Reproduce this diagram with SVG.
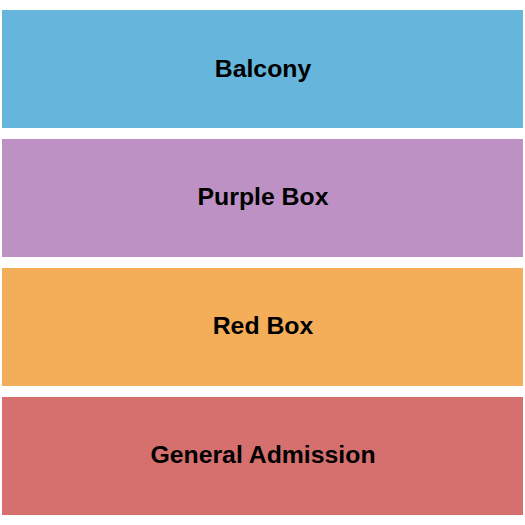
<svg xmlns="http://www.w3.org/2000/svg" width="525" height="525" viewBox="0 0 525 525">
<style>
.lbl{font-family:"Liberation Sans",Arial,sans-serif;font-weight:bold;font-size:24.8px;fill:#000;text-anchor:middle}
</style>
<rect width="525" height="525" fill="#ffffff"/>
<g id="balcony"><rect x="2" y="10" width="521" height="118" fill="#65B5DC"/><text class="lbl" x="263" y="77">Balcony</text></g>
<g id="purple-box"><rect x="2" y="139" width="521" height="118" fill="#BD91C3"/><text class="lbl" x="263" y="205">Purple Box</text></g>
<g id="red-box"><rect x="2" y="268" width="521" height="118" fill="#F4AE5A"/><text class="lbl" x="263" y="334">Red Box</text></g>
<g id="general-admission"><rect x="2" y="397" width="521" height="118" fill="#D6706F"/><text class="lbl" x="263" y="463">General Admission</text></g>
<g id="connectors"></g>
</svg>
